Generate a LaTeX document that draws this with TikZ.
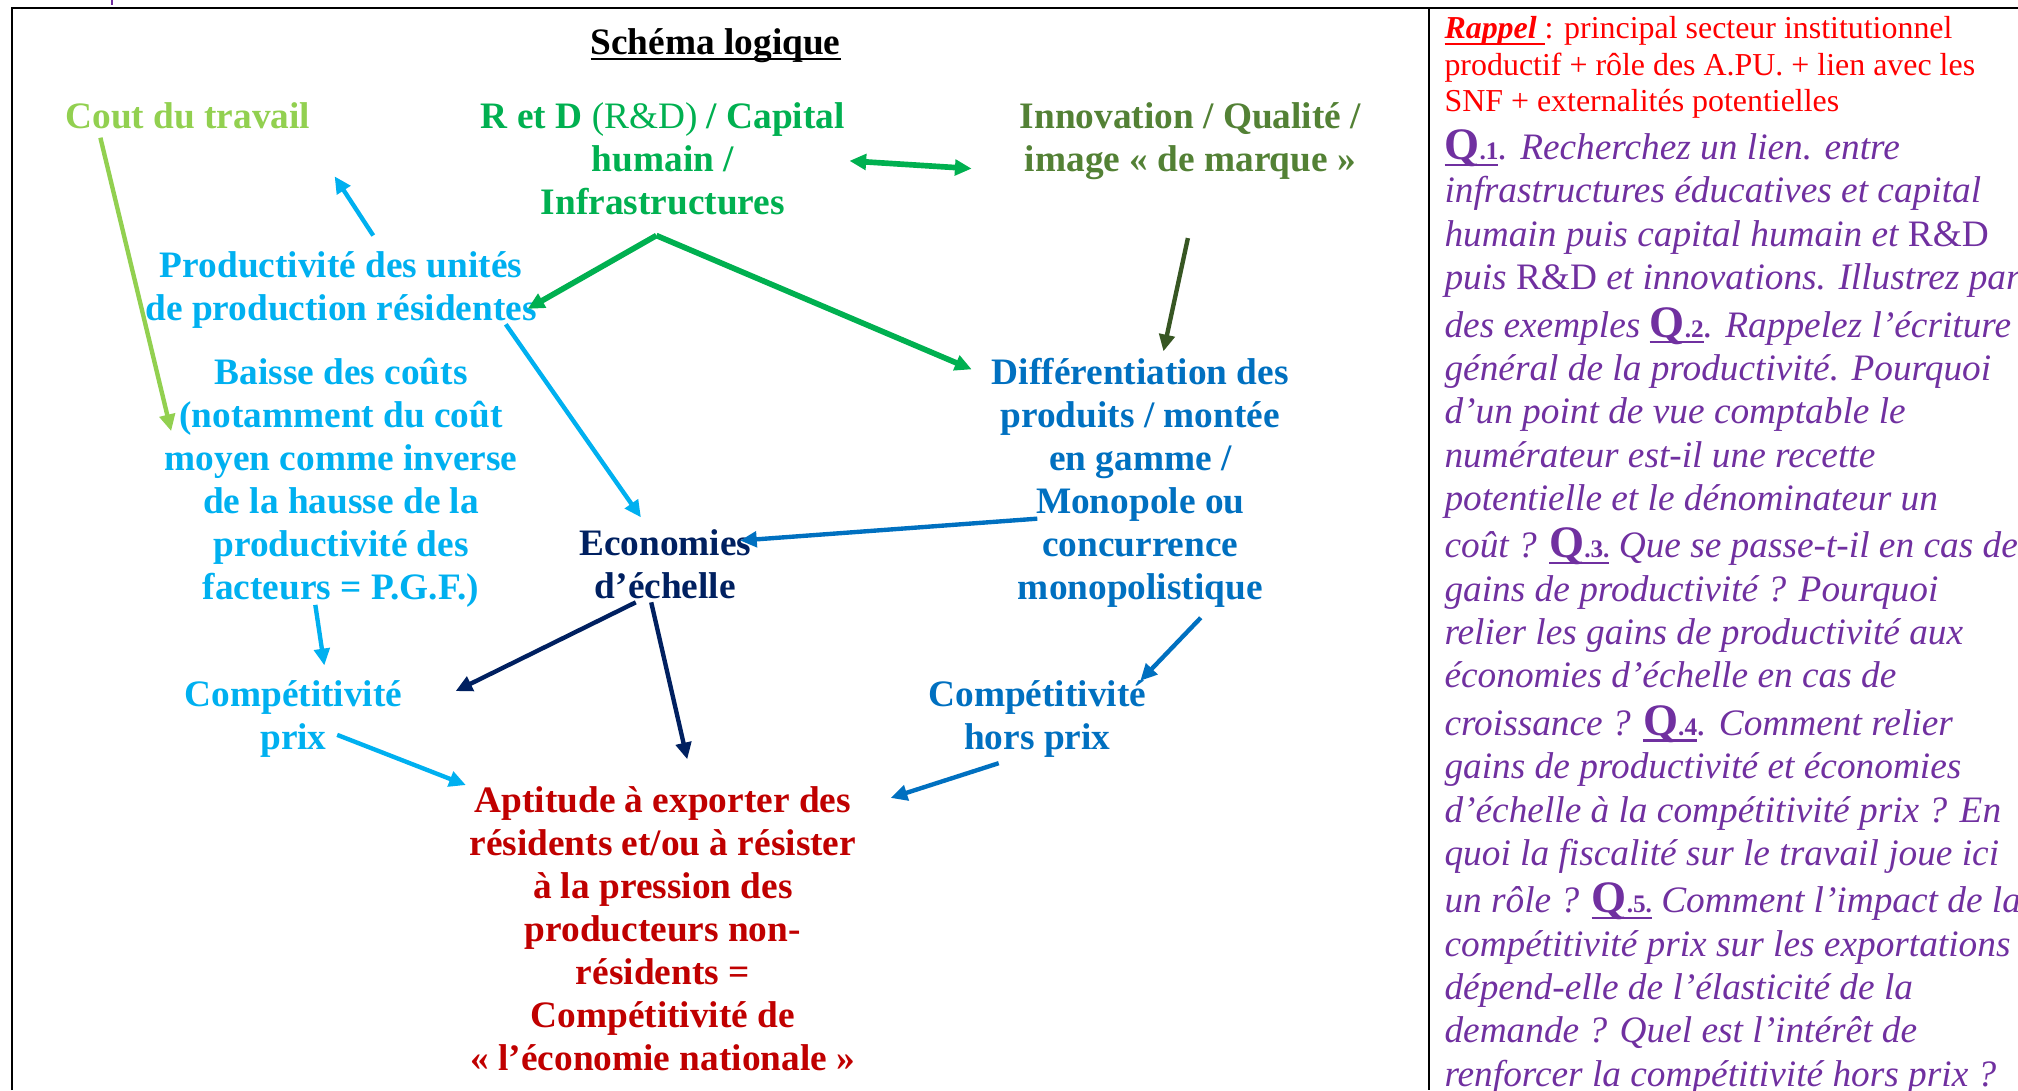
\documentclass[tikz,border=0pt]{standalone}
\usepackage{fontspec}
\setmainfont{Liberation Serif}
\usetikzlibrary{arrows.meta}

\definecolor{coutgreen}{HTML}{92D050}
\definecolor{rdgreen}{HTML}{00B050}
\definecolor{innovgreen}{HTML}{538135}
\definecolor{darkgreen}{HTML}{375623}
\definecolor{skyblue}{HTML}{00B0F0}
\definecolor{midblue}{HTML}{0070C0}
\definecolor{navy}{HTML}{002060}
\definecolor{darkred}{HTML}{C00000}
\definecolor{qpurple}{HTML}{7030A0}

\newsavebox{\soulbox}
\newcommand{\souligne}[1]{\sbox{\soulbox}{#1}\leavevmode\rlap{\rule[-2.4pt]{\wd\soulbox}{0.85pt}}\usebox{\soulbox}}
\newcommand{\diagfont}{\fontsize{14.5}{16.7}\selectfont\bfseries}
\newcommand{\qnum}[1]{\souligne{{\fontsize{17.5}{17.5}\selectfont\bfseries\upshape Q}{\fontsize{9.8}{9.8}\selectfont\bfseries\upshape.#1}}}

\begin{document}
\begin{tikzpicture}[x=0.5pt,y=-0.5pt,>={Triangle[length=6.5pt,width=6pt]},
  box node/.style={font=\diagfont,align=center,anchor=base,inner sep=0pt},
  cout node/.style={box node,text=coutgreen},
  rd node/.style={box node,text=rdgreen},
  innov node/.style={box node,text=innovgreen},
  light node/.style={box node,text=skyblue},
  blue node/.style={box node,text=midblue},
  navy node/.style={box node,text=navy},
  result node/.style={box node,text=darkred},
  rappel node/.style={font=\fontsize{12.4}{14.25}\selectfont,text=red,align=left,anchor=base west,inner sep=0pt},
  question node/.style={font=\fontsize{14.5}{16.83}\selectfont\itshape,text=qpurple,align=left,anchor=base west,inner sep=0pt},
  link/.style={->,line width=1.7pt}]

  \useasboundingbox (0,0) rectangle (1568,847);
  % cadre
  \draw[line width=0.8pt] (9,847) -- (9,6) -- (1568,6);
  \draw[line width=0.8pt] (1110,6) -- (1110,847);
  \draw[qpurple,line width=0.8pt] (87,0) -- (87,4);

  % noeuds (ancre = ligne de base de la derniere ligne)
  \node[box node] (00) at (556,42) {\souligne{Schéma logique}};
  \node[cout node] (11) at (146,100) {Cout du travail};
  \node[rd node] (12) at (515,167) {R et D {\mdseries (R\&D)} / Capital\\ humain /\\ Infrastructures};
  \node[innov node] (13) at (925,133) {Innovation / Qualité /\\ image « de marque »};
  \node[light node] (21) at (265,249) {Productivité des unités\\ de production résidentes};
  \node[light node] (31) at (265,466) {Baisse des coûts\\ (notamment du coût\\ moyen comme inverse\\ de la hausse de la\\ productivité des\\ facteurs = P.G.F.)};
  \node[navy node] (32) at (517,465) {Economies\\ d’échelle};
  \node[blue node] (33) at (886,466) {Différentiation des\\ produits / montée\\ en gamme /\\ Monopole ou\\ concurrence\\ monopolistique};
  \node[light node] (41) at (228,582) {Compétitivité\\ prix};
  \node[blue node] (43) at (806,582) {Compétitivité\\ hors prix};
  \node[result node] (52) at (515,832) {Aptitude à exporter des\\ résidents et/ou à résister\\ à la pression des\\ producteurs non-\\ résidents =\\ Compétitivité de\\ « l’économie nationale »};
  \coordinate (20) at (260,137);

  \draw[link,coutgreen] ([shift={(-68,7)}]11.base) -- ([shift={(-132,-131)}]31.base);
  \draw[link,skyblue] ([shift={(25,-66)}]21.base) -- (20);
  \draw[link,rdgreen,line width=2.2pt] ([shift={(-5,16)}]12.base) -- ([shift={(145,-9)}]21.base);
  \draw[link,rdgreen,line width=2.2pt] ([shift={(-5,16)}]12.base) -- ([shift={(-131,-179)}]33.base);
  \draw[link,<->,rdgreen,line width=2.2pt] ([shift={(145,-42)}]12.base) -- ([shift={(-170,-2)}]13.base);
  \draw[link,darkgreen] ([shift={(-2,52)}]13.base) -- ([shift={(18,-193)}]33.base);
  \draw[link,skyblue] ([shift={(128,3)}]21.base) -- ([shift={(-19,-63)}]32.base);
  \draw[link,midblue] ([shift={(-80,-63)}]33.base) -- ([shift={(58,-45)}]32.base);
  \draw[link,skyblue] ([shift={(-20,4)}]31.base) -- ([shift={(24,-65)}]41.base);
  \draw[link,navy] ([shift={(-23,3)}]32.base) -- ([shift={(126,-45)}]41.base);
  \draw[link,navy] ([shift={(-11,3)}]32.base) -- ([shift={(19,-242)}]52.base);
  \draw[link,midblue] ([shift={(47,14)}]33.base) -- ([shift={(80,-53)}]43.base);
  \draw[link,skyblue] ([shift={(34,-11)}]41.base) -- ([shift={(-153,-222)}]52.base);
  \draw[link,midblue] ([shift={(-30,11)}]43.base) -- ([shift={(177,-212)}]52.base);

  % colonne de droite
  \node[rappel node] (61) at (1122,87) {\souligne{\textbf{\textit{Rappel}}\ }: principal secteur institutionnel\\
    productif + rôle des A.PU. + lien avec les\\
    SNF + externalités potentielles};
  \node[question node] (62) at (1122,844) {\qnum{1}. Recherchez un lien. entre\\
    infrastructures éducatives et capital\\
    humain puis capital humain et {\upshape R\&D}\\
    puis {\upshape R\&D} et innovations. Illustrez par\\[1.65pt]
    des exemples \qnum{2}. Rappelez l’écriture\\
    général de la productivité. Pourquoi\\
    d’un point de vue comptable le\\
    numérateur est-il une recette\\
    potentielle et le dénominateur un\\[1.65pt]
    coût ? \qnum{3.} Que se passe-t-il en cas de\\
    gains de productivité ? Pourquoi\\
    relier les gains de productivité aux\\
    économies d’échelle en cas de\\[1.65pt]
    croissance ? \qnum{4}. Comment relier\\
    gains de productivité et économies\\
    d’échelle à la compétitivité prix ? En\\
    quoi la fiscalité sur le travail joue ici\\[1.65pt]
    un rôle ? \qnum{5.} Comment l’impact de la\\
    compétitivité prix sur les exportations\\
    dépend-elle de l’élasticité de la\\
    demande ? Quel est l’intérêt de\\
    renforcer la compétitivité hors prix ?};
\end{tikzpicture}
\end{document}
